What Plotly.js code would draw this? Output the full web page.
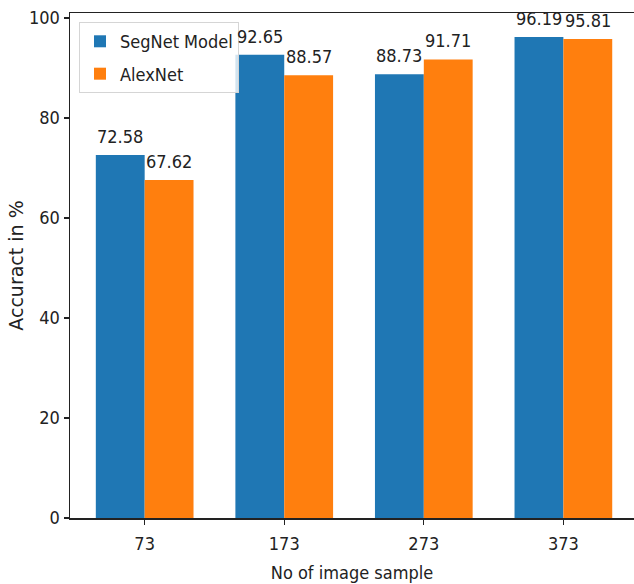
<!DOCTYPE html>
<html>
<head>
<meta charset="utf-8">
<script src="https://cdn.plot.ly/plotly-3.0.1.min.js"></script>
<style>html,body{margin:0;padding:0;background:#fff;}#chart{width:634px;height:584px;}</style>
</head>
<body>
<div id="chart"></div>
<script>
const categories = ["73", "173", "273", "373"];
const segnetValues = [72.58, 92.65, 88.73, 96.19];
const alexnetValues = [67.62, 88.57, 91.71, 95.81];
const seriesNames = ["SegNet Model", "AlexNet"];
const yTickValues = [0, 20, 40, 60, 80, 100];

const condensed = "DejaVu Sans Condensed, DejaVu Sans, sans-serif";
const labelFont = {family: condensed, size: 18, color: "#222"};

const traces = [
  {type: "bar", name: seriesNames[0], legendgroup: "a", x: categories, y: segnetValues,
   marker: {color: "#1f77b4", line: {width: 0}}, hoverinfo: "x+y"},
  {type: "bar", name: seriesNames[1], legendgroup: "b", x: categories, y: alexnetValues,
   marker: {color: "#ff7f0e", line: {width: 0}}, hoverinfo: "x+y"}
];

// value labels above each bar (category index, offset by half a bar width within the group)
const annotations = [];
const halfBarPx = 24.4;
[segnetValues, alexnetValues].forEach((vals, s) => {
  vals.forEach((v, i) => {
    annotations.push({x: i, y: v, xref: "x", yref: "y",
      text: v.toFixed(2), showarrow: false, xanchor: "center", yanchor: "bottom",
      xshift: s === 0 ? -halfBarPx : halfBarPx, yshift: 6,
      font: labelFont});
  });
});

const layout = {
  width: 634, height: 584,
  margin: {l: 70, r: 0, t: 13, b: 66},
  paper_bgcolor: "#fff", plot_bgcolor: "#fff",
  barmode: "group", bargap: 0.3, bargroupgap: 0,
  showlegend: true,
  annotations: annotations,
  legend: {x: 0.016, y: 0.982, xanchor: "left", yanchor: "top",
           bgcolor: "rgba(255,255,255,0.8)", bordercolor: "#d5d5d5", borderwidth: 1,
           font: {family: condensed, size: 18, color: "#222"}, tracegroupgap: 6},
  xaxis: {type: "category", range: [-0.535, 3.506], showgrid: false, zeroline: false,
          showline: true, linecolor: "#222", linewidth: 1.5, mirror: true,
          ticks: "outside", ticklen: 5, tickcolor: "#222", tickwidth: 1.2,
          ticklabelstandoff: 4,
          tickfont: {family: condensed, size: 18, color: "#222"},
          title: {text: "No of image sample", font: {family: condensed, size: 18, color: "#222"}, standoff: 13}},
  yaxis: {range: [0, 101], tickvals: yTickValues, showgrid: false, zeroline: false,
          showline: true, linecolor: "#222", linewidth: 1.5,
          ticks: "outside", ticklen: 5, tickcolor: "#222", tickwidth: 1.2,
          tickfont: {family: condensed, size: 18, color: "#222"},
          title: {text: "Accuract in %", font: {family: "DejaVu Sans, sans-serif", size: 19, color: "#222"}, standoff: 0}}
};

Plotly.newPlot("chart", traces, layout, {displayModeBar: false, staticPlot: true});
</script>
</body>
</html>
